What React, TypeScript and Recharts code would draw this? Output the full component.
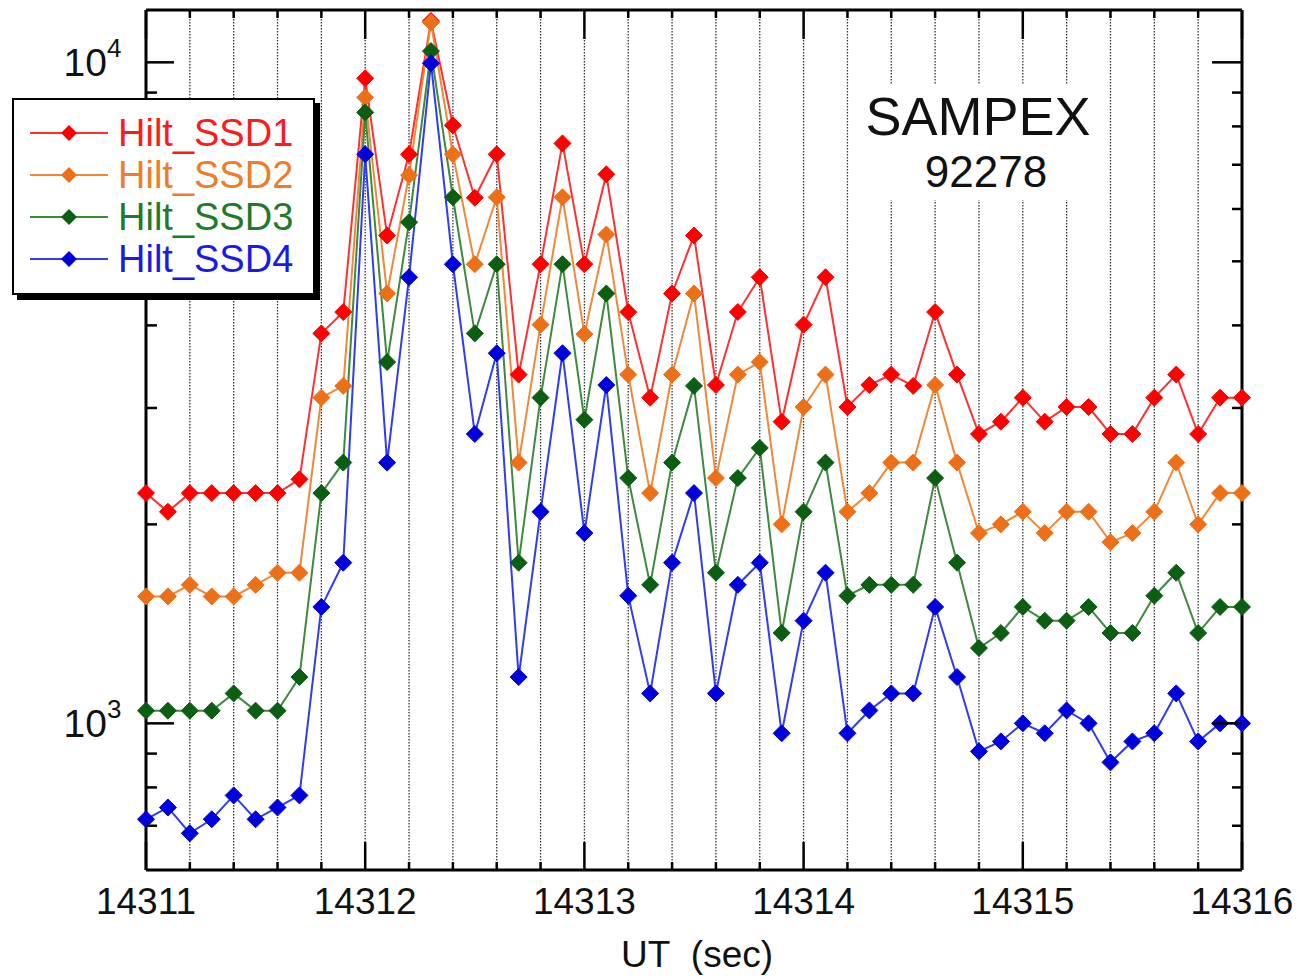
import React from 'react';
import { LineChart, Line, XAxis, YAxis, CartesianGrid } from 'recharts';

const FONT = '"Liberation Sans", Arial, Helvetica, sans-serif';

// UT (sec), one sample every 0.1 s
const times = [
  14311.0, 14311.1, 14311.2, 14311.3, 14311.4, 14311.5, 14311.6, 14311.7, 14311.8, 14311.9,
  14312.0, 14312.1, 14312.2, 14312.3, 14312.4, 14312.5, 14312.6, 14312.7, 14312.8, 14312.9,
  14313.0, 14313.1, 14313.2, 14313.3, 14313.4, 14313.5, 14313.6, 14313.7, 14313.8, 14313.9,
  14314.0, 14314.1, 14314.2, 14314.3, 14314.4, 14314.5, 14314.6, 14314.7, 14314.8, 14314.9,
  14315.0, 14315.1, 14315.2, 14315.3, 14315.4, 14315.5, 14315.6, 14315.7, 14315.8, 14315.9,
  14316.0,
];

const ssd1 = [
  2230, 2090, 2230, 2230, 2230, 2230, 2230, 2340, 3890, 4190,
  9460, 5470, 7260, 11550, 8030, 6240, 7260, 3370, 4950, 7540,
  4950, 6770, 4190, 3110, 4470, 5470, 3250, 4190, 4730, 2860,
  4010, 4730, 3010, 3250, 3370, 3240, 4190, 3370, 2740, 2860,
  3110, 2860, 3010, 3010, 2740, 2740, 3110, 3370, 2740, 3110,
  3110,
];

const ssd2 = [
  1556, 1556, 1620, 1556, 1556, 1620, 1690, 1690, 3110, 3240,
  8850, 4470, 6750, 11490, 7260, 4950, 6250, 2480, 4010, 6250,
  3880, 5490, 3370, 2230, 3370, 4470, 2350, 3370, 3520, 2000,
  3010, 3370, 2090, 2230, 2480, 2480, 3250, 2480, 1940, 2000,
  2090, 1940, 2090, 2090, 1880, 1940, 2090, 2480, 2000, 2230,
  2230,
];

const ssd3 = [
  1045, 1045, 1045, 1045, 1110, 1045, 1045, 1175, 2230, 2480,
  8400, 3520, 5730, 10400, 6250, 3890, 4950, 1750, 3110, 4950,
  2880, 4470, 2350, 1620, 2480, 3240, 1690, 2350, 2610, 1370,
  2090, 2480, 1560, 1620, 1620, 1620, 2350, 1750, 1300, 1370,
  1500, 1430, 1430, 1500, 1370, 1370, 1560, 1690, 1370, 1500,
  1500,
];

const ssd4 = [
  716, 746, 682, 716, 778, 716, 746, 778, 1500, 1750,
  7260, 2480, 4730, 9970, 4950, 2740, 3630, 1175, 2090, 3630,
  1940, 3250, 1560, 1110, 1750, 2230, 1110, 1620, 1750, 966,
  1430, 1690, 966, 1046, 1110, 1110, 1500, 1175, 907, 939,
  1000, 966, 1046, 1000, 873, 939, 966, 1110, 939, 1000,
  1000,
];

const xTicks = [
  14311, 14311.2, 14311.4, 14311.6, 14311.8,
  14312, 14312.2, 14312.4, 14312.6, 14312.8,
  14313, 14313.2, 14313.4, 14313.6, 14313.8,
  14314, 14314.2, 14314.4, 14314.6, 14314.8,
  14315, 14315.2, 14315.4, 14315.6, 14315.8,
  14316,
];
const yTicks = [700, 800, 900, 1000, 2000, 3000, 4000, 5000, 6000, 7000, 8000, 9000, 10000];
const yMajor: Record<number, string> = { 1000: '3', 10000: '4' };

const series = [
  { key: 'ssd1', name: 'Hilt_SSD1', line: '#ff3030', dot: '#ff0000', text: '#ff1a1a' },
  { key: 'ssd2', name: 'Hilt_SSD2', line: '#f08838', dot: '#ec7018', text: '#ee7c2a' },
  { key: 'ssd3', name: 'Hilt_SSD3', line: '#3d8a3d', dot: '#0b5e12', text: '#1f7a2a' },
  { key: 'ssd4', name: 'Hilt_SSD4', line: '#2f3cf0', dot: '#0000dc', text: '#1a1ae6' },
];

const data = times.map((t, i) => ({ t, ssd1: ssd1[i], ssd2: ssd2[i], ssd3: ssd3[i], ssd4: ssd4[i] }));

const isWhole = (v: number) => Math.abs(v - Math.round(v)) < 1e-6;

const BottomTick = (p: any) => {
  const { x, y, payload } = p;
  const major = isWhole(payload.value);
  return (
    <g>
      <line x1={x} x2={x} y1={y} y2={y - (major ? 28 : 8)} stroke="#000" strokeWidth={2.5} />
      {major && (
        <text x={x} y={y + 44} textAnchor="middle" fontSize={37} fontFamily={FONT} fill="#111">
          {Math.round(payload.value)}
        </text>
      )}
    </g>
  );
};

const TopTick = (p: any) => {
  const { x, y, payload } = p;
  const major = isWhole(payload.value);
  return <line x1={x} x2={x} y1={y} y2={y + (major ? 29 : 8)} stroke="#000" strokeWidth={2.5} />;
};

const LeftTick = (p: any) => {
  const { x, y, payload } = p;
  const exp = yMajor[payload.value];
  return (
    <g>
      <line x1={x} x2={x + (exp ? 28 : 11)} y1={y} y2={y} stroke="#000" strokeWidth={2.5} />
      {exp && (
        <g fontFamily={FONT} fill="#111">
          <text x={x - 39} y={y + 14} textAnchor="end" fontSize={39}>10</text>
          <text x={x - 39} y={y - 5} textAnchor="start" fontSize={26}>{exp}</text>
        </g>
      )}
    </g>
  );
};

const RightTick = (p: any) => {
  const { x, y, payload } = p;
  const major = !!yMajor[payload.value];
  return <line x1={x} x2={x - (major ? 30 : 10)} y1={y} y2={y} stroke="#000" strokeWidth={2.5} />;
};

const diamond = (fill: string) => (p: any) => {
  const { cx, cy, index } = p;
  if (cx == null || cy == null) return <g key={`n-${index}`} />;
  const r = 8.5;
  return (
    <path
      key={`d-${index}`}
      d={`M${cx},${cy - r}L${cx + r},${cy}L${cx},${cy + r}L${cx - r},${cy}Z`}
      fill={fill}
      stroke={fill}
      strokeWidth={1}
      strokeLinejoin="round"
    />
  );
};

const AxisTitle = () => (
  <text x={697} y={967} textAnchor="middle" fontSize={37} fontFamily={FONT} fill="#111">
    {'UT\u00a0\u00a0(sec)'}
  </text>
);

export default function App() {
  return (
    <div style={{ position: 'absolute', left: 0, top: 0, width: 1300, height: 977, background: '#fff' }}>
      <LineChart width={1300} height={977} data={data} margin={{ top: 0, right: 0, bottom: 0, left: 0 }}>
        <CartesianGrid horizontal={false} stroke="#333" strokeDasharray="1.5 1.5" strokeWidth={1.3} />
        <XAxis
          dataKey="t"
          type="number"
          domain={[14311, 14316]}
          ticks={xTicks}
          interval={0}
          height={107}
          tickSize={0}
          tickMargin={0}
          tickLine={false}
          axisLine={{ stroke: '#000', strokeWidth: 3 }}
          tick={<BottomTick />}
          label={{ content: () => <AxisTitle /> }}
        />
        <XAxis
          xAxisId="top"
          orientation="top"
          dataKey="t"
          type="number"
          domain={[14311, 14316]}
          ticks={xTicks}
          interval={0}
          height={10}
          tickSize={0}
          tickMargin={0}
          tickLine={false}
          axisLine={{ stroke: '#000', strokeWidth: 3 }}
          tick={<TopTick />}
        />
        <YAxis
          yAxisId="left"
          type="number"
          scale="log"
          domain={[600, 12000]}
          allowDataOverflow
          ticks={yTicks}
          interval={0}
          width={146}
          tickSize={0}
          tickMargin={0}
          tickLine={false}
          axisLine={{ stroke: '#000', strokeWidth: 3 }}
          tick={<LeftTick />}
        />
        <YAxis
          yAxisId="right"
          orientation="right"
          type="number"
          scale="log"
          domain={[600, 12000]}
          allowDataOverflow
          ticks={yTicks}
          interval={0}
          width={58}
          tickSize={0}
          tickMargin={0}
          tickLine={false}
          axisLine={{ stroke: '#000', strokeWidth: 3 }}
          tick={<RightTick />}
        />
        {series.map(s => (
          <Line
            key={s.key}
            yAxisId="left"
            type="linear"
            dataKey={s.key}
            name={s.name}
            stroke={s.line}
            strokeWidth={2}
            dot={diamond(s.dot)}
            activeDot={false}
            isAnimationActive={false}
          />
        ))}
      </LineChart>

      {/* label box; its white fill breaks the grid lines like the original */}
      <div
        style={{
          position: 'absolute', left: 856, top: 85, width: 240, height: 115, background: '#fff',
          fontFamily: FONT, color: '#111', textAlign: 'center',
        }}
      >
        <div style={{ position: 'absolute', left: 0, width: 244, top: 4, fontSize: 54, lineHeight: '54px' }}>SAMPEX</div>
        <div style={{ position: 'absolute', left: 0, width: 260, top: 65, fontSize: 44, lineHeight: '44px' }}>92278</div>
      </div>

      {/* legend */}
      <div
        style={{
          position: 'absolute', left: 12, top: 98, width: 299, height: 193, background: '#fff',
          border: '2px solid #000', boxShadow: '5px 5px 0 #000', fontFamily: FONT,
        }}
      >
        {series.map((s, i) => (
          <div key={s.key} style={{ position: 'absolute', left: 0, top: 12 + i * 42, height: 42, display: 'flex', alignItems: 'center' }}>
            <svg width={104} height={42} style={{ display: 'block' }}>
              <line x1={16} x2={94} y1={21} y2={21} stroke={s.line} strokeWidth={2} />
              <path d="M55,13L63,21L55,29L47,21Z" fill={s.dot} />
            </svg>
            <span style={{ fontSize: 38, color: s.text, lineHeight: '42px', whiteSpace: 'nowrap' }}>{s.name}</span>
          </div>
        ))}
      </div>
    </div>
  );
}
